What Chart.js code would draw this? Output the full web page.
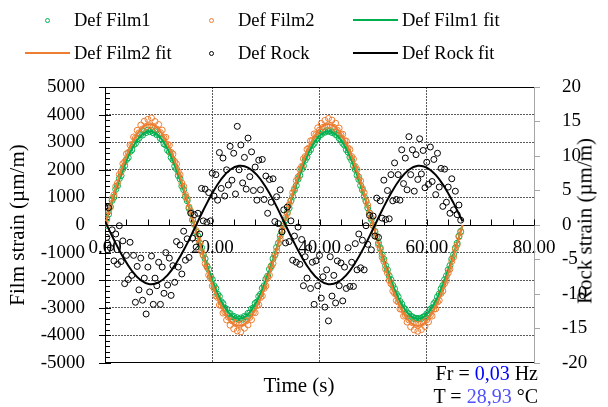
<!DOCTYPE html>
<html>
<head>
<meta charset="utf-8">
<title>Def Film / Rock</title>
<script src="https://cdn.jsdelivr.net/npm/chart.js"></script>
<style>
    body { margin: 0; background: #fff; }
    #wrap { position: relative; width: 608px; height: 407px; font-family: "Liberation Serif", "Times New Roman", serif; color: #000; }
    #wrap canvas { position: absolute; left: 0; top: 0; }
    .item { position: absolute; display: flex; align-items: center; height: 22px; font-size: 18.5px; white-space: nowrap; }
    .sym { width: 45px; height: 22px; margin-right: 4px; display: flex; align-items: center; justify-content: center; }
    .dot { width: 3px; height: 3px; border: 1px solid; border-radius: 50%; }
    .line { width: 45px; height: 2px; }
    .txt { position: absolute; white-space: nowrap; }
</style>
</head>
<body>
<div id="wrap">
    <canvas id="myChart" width="608" height="407"></canvas>

    <div class="item" style="left:25px;top:9px"><span class="sym"><span class="dot" style="border-color:#00b050"></span></span>Def Film1</div>
    <div class="item" style="left:189px;top:9px"><span class="sym"><span class="dot" style="border-color:#ed7d31"></span></span>Def Film2</div>
    <div class="item" style="left:353px;top:9px"><span class="sym"><span class="line" style="background:#00b050"></span></span>Def Film1 fit</div>
    <div class="item" style="left:25px;top:42px"><span class="sym"><span class="line" style="background:#ed7d31"></span></span>Def Film2 fit</div>
    <div class="item" style="left:189px;top:42px"><span class="sym"><span class="dot" style="border-color:#000"></span></span>Def Rock</div>
    <div class="item" style="left:353px;top:42px"><span class="sym"><span class="line" style="background:#000"></span></span>Def Rock fit</div>

    <div class="txt" style="left:585px;top:221px;font-size:21px;transform:translate(-50%,-50%) rotate(-90deg)">Rock strain (µm/m)</div>
    <div class="txt" style="left:299px;top:385px;font-size:21px;transform:translate(-50%,-50%)">Time (s)</div>
    <div class="txt" style="right:70px;top:362px;font-size:20px;line-height:23px;text-align:right">
        Fr = <span style="color:#0000ff">0,03</span> Hz<br>
        T = <span style="color:#5050ff">28,93</span> °C
    </div>
</div>

<script>
"use strict";

/* tider för mätpunkterna (s) */
const time = [
    0, 0.33, 0.67, 1, 1.33, 1.67, 2, 2.33, 2.67, 3, 3.33, 3.67, 4, 4.33, 4.67,
    5, 5.33, 5.67, 6, 6.33, 6.67, 7, 7.33, 7.67, 8, 8.33, 8.67, 9, 9.33, 9.67,
    10, 10.33, 10.67, 11, 11.33, 11.67, 12, 12.33, 12.67, 13, 13.33, 13.67, 14, 14.33, 14.67,
    15, 15.33, 15.67, 16, 16.33, 16.67, 17, 17.33, 17.67, 18, 18.33, 18.67, 19, 19.33, 19.67,
    20, 20.33, 20.67, 21, 21.33, 21.67, 22, 22.33, 22.67, 23, 23.33, 23.67, 24, 24.33, 24.67,
    25, 25.33, 25.67, 26, 26.33, 26.67, 27, 27.33, 27.67, 28, 28.33, 28.67, 29, 29.33, 29.67,
    30, 30.33, 30.67, 31, 31.33, 31.67, 32, 32.33, 32.67, 33, 33.33, 33.67, 34, 34.33, 34.67,
    35, 35.33, 35.67, 36, 36.33, 36.67, 37, 37.33, 37.67, 38, 38.33, 38.67, 39, 39.33, 39.67,
    40, 40.33, 40.67, 41, 41.33, 41.67, 42, 42.33, 42.67, 43, 43.33, 43.67, 44, 44.33, 44.67,
    45, 45.33, 45.67, 46, 46.33, 46.67, 47, 47.33, 47.67, 48, 48.33, 48.67, 49, 49.33, 49.67,
    50, 50.33, 50.67, 51, 51.33, 51.67, 52, 52.33, 52.67, 53, 53.33, 53.67, 54, 54.33, 54.67,
    55, 55.33, 55.67, 56, 56.33, 56.67, 57, 57.33, 57.67, 58, 58.33, 58.67, 59, 59.33, 59.67,
    60, 60.33, 60.67, 61, 61.33, 61.67, 62, 62.33, 62.67, 63, 63.33, 63.67, 64, 64.33, 64.67,
    65, 65.33, 65.67, 66, 66.33
];

/* Def Film1 (µm/m) */
const film1 = [
    -30, 250, 390, 660, 890, 1010, 1290, 1420, 1680, 1790,
    2040, 2150, 2370, 2440, 2660, 2720, 2910, 2950, 3120, 3140,
    3280, 3260, 3390, 3350, 3440, 3380, 3430, 3340, 3380, 3270,
    3290, 3130, 3110, 2940, 2900, 2710, 2650, 2450, 2360, 2130,
    2030, 1790, 1670, 1410, 1280, 1020, 880, 600, 460, 180,
    20, -250, -400, -670, -820, -1090, -1220, -1480, -1610, -1860,
    -1970, -2200, -2300, -2510, -2590, -2780, -2850, -3010, -3050, -3190,
    -3210, -3320, -3310, -3400, -3360, -3420, -3370, -3410, -3310, -3330,
    -3200, -3190, -3040, -3010, -2840, -2790, -2590, -2510, -2290, -2200,
    -1960, -1850, -1600, -1480, -1220, -1080, -810, -670, -390, -240,
    30, 190, 460, 610, 870, 1030, 1270, 1430, 1660, 1800,
    2020, 2140, 2350, 2460, 2640, 2730, 2890, 2960, 3100, 3150,
    3260, 3280, 3370, 3360, 3420, 3390, 3410, 3350, 3370, 3280,
    3250, 3140, 3090, 2960, 2890, 2730, 2640, 2460, 2340, 2150,
    2010, 1800, 1650, 1430, 1270, 1030, 860, 620, 440, 200,
    -10, -230, -410, -650, -830, -1070, -1240, -1470, -1620, -1840,
    -1980, -2190, -2310, -2500, -2600, -2770, -2860, -3000, -3060, -3180,
    -3220, -3310, -3330, -3390, -3380, -3410, -3380, -3390, -3330, -3310,
    -3220, -3180, -3060, -3000, -2850, -2770, -2600, -2500, -2310, -2190,
    -1980, -1840, -1620, -1470, -1230, -1070, -830, -660, -400, -230
];

/* Def Film2 (µm/m) */
const film2 = [
    40, 190, 500, 650, 960, 1090, 1400, 1520, 1830, 1920,
    2220, 2290, 2580, 2620, 2900, 2910, 3190, 3150, 3430, 3340,
    3620, 3480, 3760, 3560, 3830, 3600, 3880, 3570, 3750, 3470,
    3640, 3350, 3440, 3160, 3180, 2920, 2890, 2630, 2570, 2300,
    2210, 1930, 1820, 1520, 1400, 1100, 950, 650, 500, 190,
    40, -200, -500, -650, -960, -1100, -1400, -1520, -1820, -1930,
    -2210, -2300, -2570, -2630, -2900, -2920, -3190, -3150, -3440, -3340,
    -3630, -3470, -3760, -3560, -3840, -3610, -3870, -3560, -3740, -3480,
    -3620, -3350, -3430, -3160, -3180, -2920, -2890, -2630, -2570, -2300,
    -2210, -1930, -1820, -1520, -1400, -1100, -950, -650, -500, -190,
    -30, 270, 420, 730, 880, 1180, 1320, 1610, 1740, 2020,
    2120, 2400, 2480, 2740, 2790, 3050, 3060, 3300, 3270, 3520,
    3440, 3680, 3540, 3790, 3590, 3860, 3610, 3800, 3540, 3690,
    3430, 3510, 3270, 3290, 3060, 3040, 2790, 2730, 2480, 2390,
    2120, 2010, 1740, 1600, 1320, 1170, 880, 720, 430, 260,
    -20, -260, -430, -720, -880, -1170, -1320, -1600, -1740, -2010,
    -2130, -2390, -2480, -2740, -2790, -3040, -3060, -3300, -3270, -3520,
    -3440, -3690, -3540, -3800, -3600, -3850, -3600, -3790, -3530, -3680,
    -3430, -3510, -3270, -3300, -3050, -3040, -2790, -2730, -2480, -2390,
    -2120, -2010, -1740, -1600, -1320, -1170, -880, -720, -430, -260
];

/* Def Rock (µm/m, höger axel) */
const rock = [
    2.6, -1.8, 2.5, -3.3, -0.7, -5.2, -1.3, -5.7, -0.1, -5.3,
    -2.3, -8.5, -4.4, -7.9, -2.5, -7.3, -4.4, -11.2, -6.0, -9.4,
    -4.8, -10.9, -7.7, -12.9, -6.1, -9.7, -4.5, -11.5, -7.7, -8.8,
    -5.4, -11.5, -6.1, -9.9, -4.0, -8.7, -4.8, -10.2, -5.9, -8.3,
    -2.4, -6.1, -2.9, -7.1, -0.9, -5.1, -2.0, -4.7, 1.7, -1.9,
    1.5, -3.2, 1.7, -1.3, 5.3, 0.6, 5.2, 0.4, 4.7, 0.6,
    7.5, 4.2, 7.3, 3.6, 10.5, 5.3, 9.7, 4.2, 8.0, 5.8,
    11.4, 6.5, 10.4, 4.5, 14.3, 8.0, 11.6, 6.1, 9.8, 5.2,
    12.6, 7.0, 10.6, 5.0, 8.4, 3.6, 9.4, 5.1, 9.5, 3.7,
    7.1, 1.7, 6.6, 3.3, 6.7, 0.5, 4.1, 0.2, 5.1, -1.0,
    2.2, -2.6, 2.6, -2.4, 0.6, -5.1, -1.6, -5.4, -0.3, -5.7,
    -2.1, -8.8, -4.6, -7.7, -3.3, -9.2, -5.4, -11.5, -5.2, -8.8,
    -4.4, -10.6, -7.5, -11.9, -6.5, -13.9, -4.6, -10.3, -7.3, -11.3,
    -5.2, -8.8, -5.5, -11.0, -6.1, -9.2, -3.3, -8.9, -5.4, -8.9,
    -2.7, -6.5, -1.3, -6.2, -2.2, -6.5, -0.1, -2.8, 1.4, -3.6,
    1.3, -1.6, 3.9, -1.8, 3.5, 1.0, 6.5, 0.8, 5.0, 0.9,
    7.3, 3.5, 9.0, 3.7, 7.3, 3.6, 10.9, 6.0, 9.7, 5.1,
    12.8, 7.3, 10.9, 4.9, 10.2, 6.6, 12.5, 7.4, 10.8, 5.4,
    9.1, 5.9, 11.3, 6.3, 9.5, 4.4, 10.4, 5.5, 8.2, 2.7,
    8.1, 3.3, 5.5, 1.7, 6.7, 2.2, 4.9, 1.5, 2.9, 0.7
];

/* anpassade kurvor (fit) */
const fitTime = [
    0, 1.67, 3.33, 5, 6.67, 8.33, 10, 11.67, 13.33, 15,
    16.67, 18.33, 20, 21.67, 23.33, 25, 26.67, 28.33, 30, 31.67,
    33.33, 35, 36.67, 38.33, 40, 41.67, 43.33, 45, 46.67, 48.33,
    50, 51.67, 53.33, 55, 56.67, 58.33, 60, 61.67, 63.33, 65, 66.67
];
const film1Fit = [
    0, 1051, 1999, 2751, 3234, 3400, 3234, 2751, 1999, 1051,
    0, -1051, -1999, -2751, -3234, -3400, -3234, -2751, -1999, -1051,
    0, 1051, 1999, 2751, 3234, 3400, 3234, 2751, 1999, 1051,
    0, -1051, -1999, -2751, -3234, -3400, -3234, -2751, -1999, -1051, 0
];
const film2Fit = [
    0, 1128, 2145, 2953, 3472, 3650, 3472, 2953, 2145, 1128,
    0, -1128, -2145, -2953, -3472, -3650, -3472, -2953, -2145, -1128,
    0, 1128, 2145, 2953, 3472, 3650, 3472, 2953, 2145, 1128,
    0, -1128, -2145, -2953, -3472, -3650, -3472, -2953, -2145, -1128, 0
];
const rockFit = [
    0.54, -2.14, -4.61, -6.63, -8.00, -8.58, -8.33, -7.26, -5.48, -3.17,
    -0.54, 2.14, 4.61, 6.63, 8.00, 8.58, 8.33, 7.26, 5.48, 3.17,
    0.54, -2.14, -4.61, -6.63, -8.00, -8.58, -8.33, -7.26, -5.48, -3.17,
    -0.54, 2.14, 4.61, 6.63, 8.00, 8.58, 8.33, 7.26, 5.48, 3.17, 0.54
];

/* axlar */
const timeTicks = [0, 20, 40, 60, 80];
const filmRange = [-5000, 5000];
const rockRange = [-20, 20];

const GREEN = '#00b050';
const ORANGE = '#ed7d31';
const GRID = '#5a5a5a';
const SERIF = "'Liberation Serif', 'Times New Roman', serif";

/* para ihop tid och värde */
function pairs(xs, ys) {
    return ys.map((v, i) => ({ x: xs[i], y: v }));
}

/* små skalstreck på axlarna + ram upptill och nedtill */
const axisMarks = {
    id: 'axisMarks',
    beforeDatasetsDraw(chart) {
        const { ctx, chartArea: a, scales } = chart;
        const y = scales.y;
        const x = scales.x;
        ctx.save();
        ctx.strokeStyle = '#000';
        ctx.lineWidth = 1;
        ctx.beginPath();
        ctx.moveTo(a.left, a.top + 0.5);
        ctx.lineTo(a.right, a.top + 0.5);
        ctx.moveTo(a.left, a.bottom - 0.5);
        ctx.lineTo(a.right, a.bottom - 0.5);
        for (let v = filmRange[0]; v <= filmRange[1]; v += 200) {
            const py = Math.round(y.getPixelForValue(v)) + 0.5;
            const major = v % 1000 === 0;
            ctx.moveTo(a.left - (major ? 6 : 0), py);
            ctx.lineTo(a.left + (major ? 6 : 5), py);
        }
        const y0 = Math.round(y.getPixelForValue(0)) + 0.5;
        for (let t = 0; t <= 80; t += 4) {
            const px = Math.round(x.getPixelForValue(t)) + 0.5;
            ctx.moveTo(px, y0);
            ctx.lineTo(px, y0 - 6);
        }
        ctx.stroke();
        ctx.restore();
    }
};

Chart.defaults.font.family = SERIF;
Chart.defaults.color = '#000';

const ctx = document.getElementById('myChart');

new Chart(ctx, {
    type: 'scatter',
    data: {
        datasets: [{
            label: 'Def Film1',
            data: pairs(time, film1),
            borderColor: GREEN,
            backgroundColor: 'rgba(0,0,0,0)',
            pointRadius: 3,
            borderWidth: 1,
            order: 6
        }, {
            label: 'Def Film2',
            data: pairs(time, film2),
            borderColor: ORANGE,
            backgroundColor: 'rgba(0,0,0,0)',
            pointRadius: 3,
            borderWidth: 1,
            order: 5
        }, {
            label: 'Def Film1 fit',
            data: pairs(fitTime, film1Fit),
            showLine: true,
            tension: 0.4,
            borderColor: GREEN,
            borderWidth: 2,
            pointRadius: 0,
            order: 4
        }, {
            label: 'Def Film2 fit',
            data: pairs(fitTime, film2Fit),
            showLine: true,
            tension: 0.4,
            borderColor: ORANGE,
            borderWidth: 2,
            pointRadius: 0,
            order: 3
        }, {
            label: 'Def Rock',
            data: pairs(time, rock),
            yAxisID: 'y2',
            borderColor: '#000',
            backgroundColor: 'rgba(0,0,0,0)',
            pointRadius: 3,
            borderWidth: 1,
            order: 2
        }, {
            label: 'Def Rock fit',
            data: pairs(fitTime, rockFit),
            yAxisID: 'y2',
            showLine: true,
            tension: 0.4,
            borderColor: '#000',
            borderWidth: 2,
            pointRadius: 0,
            order: 1
        }]
    },
    options: {
        responsive: false,
        animation: false,
        devicePixelRatio: 1,
        layout: {
            padding: { top: 87, bottom: 44, left: 0, right: 0 }
        },
        plugins: {
            legend: { display: false },
            tooltip: { enabled: false }
        },
        scales: {
            x: {
                type: 'linear',
                position: { y: 0 },
                min: timeTicks[0],
                max: timeTicks[timeTicks.length - 1],
                afterBuildTicks: (scale) => {
                    scale.ticks = timeTicks.map(v => ({ value: v }));
                },
                ticks: {
                    font: { family: SERIF, size: 19 },
                    padding: 12,
                    maxRotation: 0,
                    autoSkip: false,
                    callback: (v) => Number(v).toFixed(2)
                },
                grid: {
                    color: (c) => (c.tick && (c.tick.value === 0 || c.tick.value === 80)) ? 'rgba(0,0,0,0)' : GRID,
                    drawTicks: false
                },
                border: { color: '#000', width: 1, dash: [2, 1] }
            },
            y: {
                position: 'left',
                min: filmRange[0],
                max: filmRange[1],
                afterFit: (scale) => { scale.width = 105; },
                ticks: {
                    stepSize: 1000,
                    font: { family: SERIF, size: 19 },
                    padding: 20,
                    callback: (v) => String(v)
                },
                grid: {
                    color: (c) => (c.tick && Math.abs(c.tick.value) % 5000 === 0) ? 'rgba(0,0,0,0)' : GRID,
                    drawTicks: false
                },
                border: { color: '#000', width: 1, dash: [2, 1] },
                title: {
                    display: true,
                    text: 'Film strain (µm/m)',
                    font: { family: SERIF, size: 21 },
                    padding: { top: 6, bottom: 0 }
                }
            },
            y2: {
                position: 'right',
                min: rockRange[0],
                max: rockRange[1],
                afterFit: (scale) => { scale.width = 74; },
                ticks: {
                    stepSize: 5,
                    font: { family: SERIF, size: 19 },
                    padding: 22,
                    callback: (v) => String(v)
                },
                grid: {
                    drawOnChartArea: false,
                    drawTicks: true,
                    tickLength: 6,
                    tickColor: '#a6a6a6',
                    color: '#a6a6a6'
                },
                border: { color: '#a6a6a6', width: 1 }
            }
        }
    },
    plugins: [axisMarks]
});
</script>
</body>
</html>
